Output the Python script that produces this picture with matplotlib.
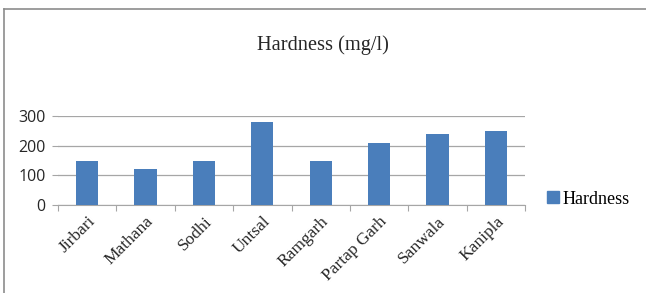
import numpy as np
import matplotlib
matplotlib.use("Agg")
import matplotlib.pyplot as plt
from matplotlib.lines import Line2D

# hardness values (mg/l)
villages = ["Jirbari", "Mathana", "Sodhi", "Untsal", "Ramgarh",
            "Partap Garh", "Sanwala", "Kanipla"]
hardness = [150, 120, 150, 280, 150, 210, 240, 250]
yticks = [0, 100, 200, 300]

bar_col = "#4a7ebb"
grid_col = "#a6a6a6"

fig = plt.figure(figsize=(6.46, 2.93), dpi=100)
ax = fig.add_axes([0.0898, 0.3003, 0.7229, 0.3037])

x = np.arange(len(villages))
ax.bar(x, hardness, width=0.38, color=bar_col, zorder=3, label="Hardness")

ax.set_xlim(-0.5, len(villages) - 0.5)
ax.set_ylim(0, 300)
ax.set_yticks(yticks)
ax.set_yticklabels([str(v) for v in yticks], fontfamily="Open Sans", fontsize=11.5, color="#262626")
ax.tick_params(axis="y", length=4, color=grid_col, pad=5)
ax.grid(axis="y", color=grid_col, linewidth=0.9, zorder=0)

# x ticks sit between categories, labels at bar centres
ax.set_xticks(np.arange(len(villages) + 1) - 0.5)
ax.set_xticklabels([])
ax.set_xticks(x, minor=True)
ax.set_xticklabels(villages, minor=True, rotation=45, ha="right", rotation_mode="anchor",
                   fontfamily="Liberation Serif", fontsize=12.5, color="#262626")
ax.tick_params(axis="x", which="major", length=4, color=grid_col)
ax.tick_params(axis="x", which="minor", length=0, pad=6)

for s in ["top", "right", "left"]:
    ax.spines[s].set_visible(False)
ax.spines["bottom"].set_color(grid_col)

fig.text(0.5, 0.846, "Hardness (mg/l)", ha="center", va="center",
         fontfamily="Liberation Serif", fontsize=14.7, color="#262626")

fig.legend(handles=[Line2D([], [], marker="s", linestyle="none", color=bar_col, markersize=8)],
           labels=["Hardness"], loc="center left", bbox_to_anchor=(0.845, 0.32),
           frameon=False, borderpad=0, borderaxespad=0, handlelength=0.8,
           handletextpad=0.1, prop={"family": "Liberation Serif", "size": 13})

# outer chart frame (only top and left edges show)
fig.add_artist(Line2D([0.006, 1.0], [0.969, 0.969], color="#8c8c8c", linewidth=1.2))
fig.add_artist(Line2D([0.006, 0.006], [0.0, 0.969], color="#8c8c8c", linewidth=1.2))

fig.savefig("out.png", dpi=100)
